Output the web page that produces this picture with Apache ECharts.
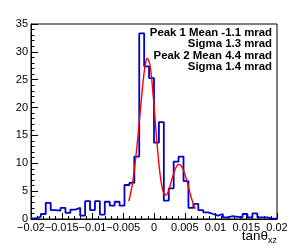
<!DOCTYPE html>
<html><head><meta charset="utf-8">
<script src="https://cdn.jsdelivr.net/npm/echarts@6/dist/echarts.min.js"></script>
<style>html,body{margin:0;padding:0;background:#fff}#c{width:307px;height:245px}</style>
</head><body><div id="c"></div>
<script>
const binLow = -0.02;
const binWidth = 0.0008;
const counts = [0.1,0.4,0.9,2.9,1.6,1.5,2.0,1.1,1.7,2.0,
                0.6,3.2,1.6,3.2,0.8,3.1,2.4,3.1,2.4,6.1,
                6.5,11.2,33.3,27.4,25.3,13.7,17.4,3.3,5.5,10.3,
                11.2,6.8,2.0,2.7,1.6,1.2,0.9,0.6,0.9,0.3,
                0.5,0.4,0.3,0.9,0.3,1.0,0.3,0.3,0.1,0.05];
const fitX = [-0.0041,-0.0038,-0.0035,-0.0032,-0.0029,-0.0026,-0.0023,-0.0020,-0.0017,-0.0014,
              -0.0011,-0.0008,-0.0005,-0.0002,0.0001,0.0004,0.0007,0.0010,0.0013,0.0016,
              0.0019,0.0022,0.0025,0.0028,0.0031,0.0034,0.0037,0.0040,0.0043,0.0046,
              0.0049,0.0052,0.0055,0.0058,0.0061,0.0064,0.0067];
const fitY = [3.2,4.6,6.4,8.8,11.7,15.0,18.6,22.1,25.4,27.7,
              28.8,28.3,26.4,23.0,19.0,14.8,11.0,7.9,5.8,4.6,
              4.3,4.6,5.5,6.7,7.8,8.8,9.5,9.8,9.7,9.2,
              8.4,7.4,6.2,4.9,3.7,2.7,1.8];
const xTickLabels = ['\u22120.02','\u22120.015','\u22120.01','\u22120.005','0','0.005','0.01','0.015','0.02'];
const yTickLabels = ['0','5','10','15','20','25','30','35'];
const legendLines = ['Peak 1 Mean -1.1 mrad','Sigma 1.3 mrad','Peak 2 Mean 4.4 mrad','Sigma 1.4 mrad'];
const axisTitle = ['tan\u03b8','xz'];

const histPts = counts.map((v,i)=>[binLow+i*binWidth, v]);
histPts.push([binLow+counts.length*binWidth, counts[counts.length-1]]);
const fitPts = fitX.map((x,i)=>[x, fitY[i]]);

const FONT = '"Liberation Sans", Arial, Helvetica, sans-serif';
const chart = echarts.init(document.getElementById('c'), null, {renderer:'canvas'});
chart.setOption({
  animation: false,
  backgroundColor: '#fff',
  grid: {left: 31, top: 24, width: 246, height: 195, show: true, borderColor: '#000', borderWidth: 1, backgroundColor: 'transparent'},
  xAxis: {
    type: 'value', min: -0.02, max: 0.02, interval: 0.005,
    axisLine: {show: true, onZero: false, lineStyle: {color: '#000', width: 1}},
    axisTick: {show: true, inside: true, length: 6, lineStyle: {color: '#000'}},
    minorTick: {show: true, splitNumber: 5, length: 3, lineStyle: {color: '#000'}},
    splitLine: {show: false},
    axisLabel: {margin: 3, color: '#000', fontSize: 11, fontFamily: FONT, hideOverlap: false,
      interval: 0, showMinLabel: true, showMaxLabel: true,
      formatter: (v, i) => xTickLabels[i]}
  },
  yAxis: {
    type: 'value', min: 0, max: 35, interval: 5,
    axisLine: {show: true, onZero: false, lineStyle: {color: '#000', width: 1}},
    axisTick: {show: true, inside: true, length: 7, lineStyle: {color: '#000'}},
    minorTick: {show: true, splitNumber: 5, length: 3.5, lineStyle: {color: '#000'}},
    splitLine: {show: false},
    axisLabel: {margin: 3, color: '#000', fontSize: 11, fontFamily: FONT,
      showMinLabel: true, showMaxLabel: true,
      formatter: (v, i) => yTickLabels[i]}
  },
  series: [
    {type: 'line', data: histPts, step: 'end', symbol: 'none', clip: true,
     lineStyle: {color: '#0000cc', width: 1.8}},
    {type: 'line', data: fitPts, smooth: true, symbol: 'none', clip: true,
     lineStyle: {color: '#ff0000', width: 1.4}}
  ],
  graphic: [{
    type: 'text', right: 35, top: 27, z: 100,
    style: {text: legendLines.join('\n'), font: 'bold 11.4px ' + FONT, fill: '#000', textAlign: 'right', lineHeight: 11.5}
  }, {
    type: 'text', x: 277, y: 229, z: 100,
    style: {text: '{a|' + axisTitle[0] + '}{b|' + axisTitle[1] + '}', textAlign: 'right', textVerticalAlign: 'top',
      rich: {a: {fontSize: 13.5, fontFamily: FONT, fill: '#000', lineHeight: 16, verticalAlign: 'top'},
             b: {fontSize: 9, fontFamily: FONT, fill: '#000', lineHeight: 16, verticalAlign: 'bottom', padding: [5,0,0,0]}}}
  }]
});
</script></body></html>
